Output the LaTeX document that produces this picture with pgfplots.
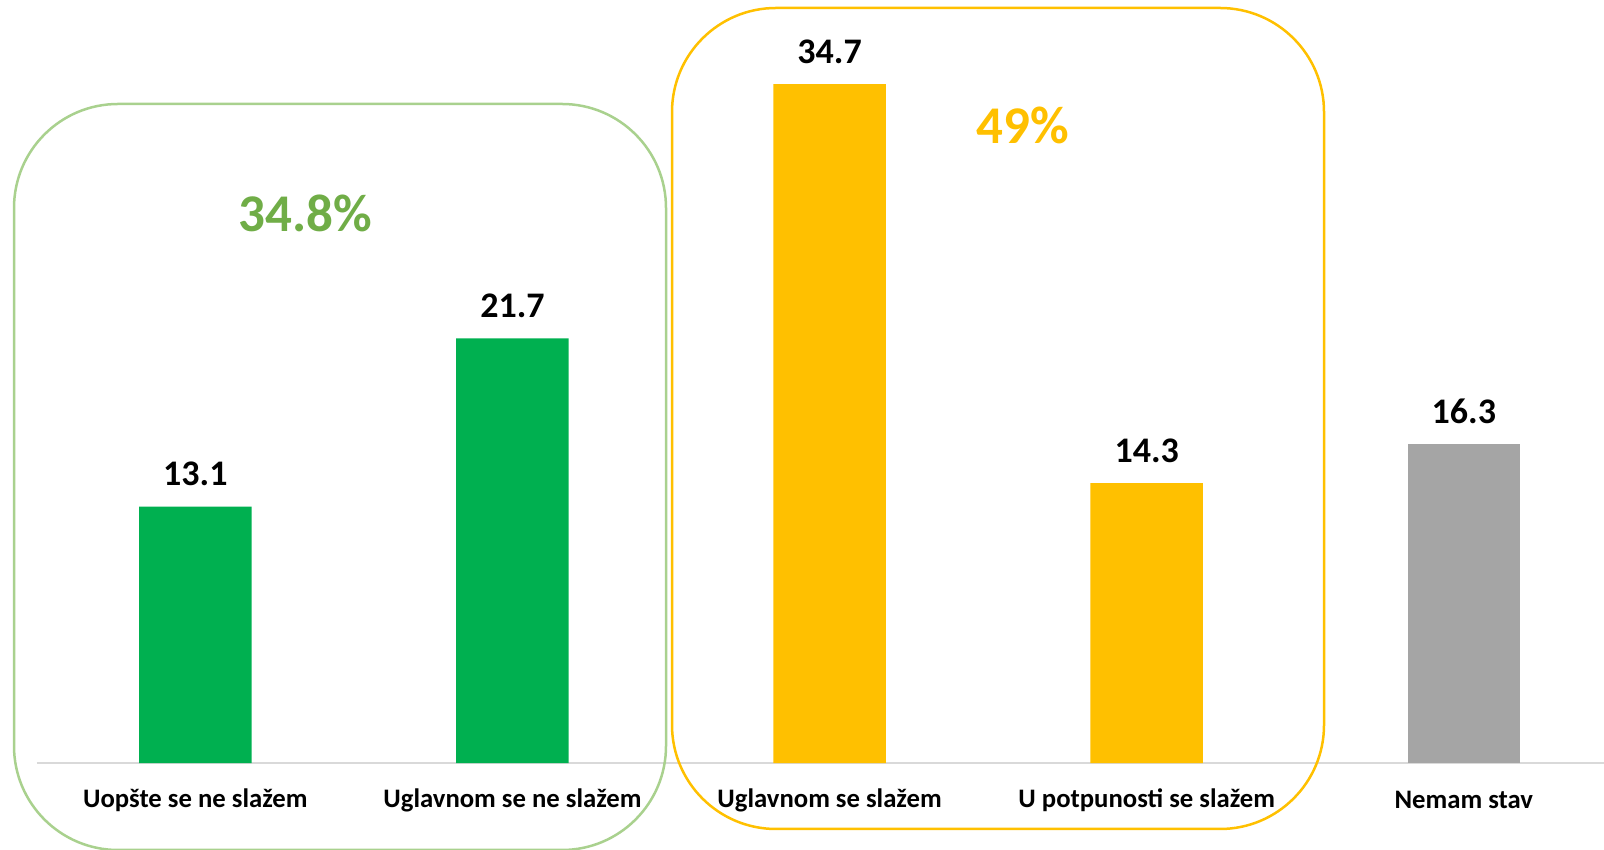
\documentclass[border=0pt]{standalone}
\usepackage{pgfplots}
\pgfplotsset{compat=1.18}
\usepackage{fontspec}
\setmainfont{Carlito}
\definecolor{bargreen}{HTML}{00B050}
\definecolor{baryellow}{HTML}{FFC000}
\definecolor{bargray}{HTML}{A5A5A5}
\definecolor{boxgreen}{HTML}{A9D18E}
\definecolor{textgreen}{HTML}{70AD47}
\definecolor{axisgray}{HTML}{D9D9D9}
\begin{document}
\begin{tikzpicture}
\useasboundingbox (0,0) rectangle (802pt,425pt);
\begin{axis}[
  at={(18.4pt,43.5pt)}, anchor=south west,
  scale only axis, width=783.6pt, height=381.5pt,
  xmin=-0.5, xmax=4.442, ymin=0, ymax=39,
  enlargelimits=false,
  ybar, bar width=56.25pt, bar shift=0pt,
  axis lines*=left,
  y axis line style={draw=none},
  x axis line style={-, draw=axisgray, line width=0.75pt},
  ytick=\empty,
  xtick={0,1,2,3,4},
  xticklabels={Uopšte se ne slažem, Uglavnom se ne slažem, Uglavnom se slažem, U potpunosti se slažem, Nemam stav},
  major tick length=0pt,
  xticklabel style={font=\fontsize{13.35}{15}\selectfont\bfseries, anchor=center, yshift=-18.5pt},
  /pgf/number format/assume math mode=true,
  nodes near coords={\pgfmathprintnumber[fixed,precision=1]{\pgfplotspointmeta}},
  every node near coord/.append style={font=\fontsize{18}{20}\selectfont\bfseries, black, anchor=base, yshift=10.5pt},
  clip=false,
]
\addplot[draw=none, fill=bargreen] coordinates {(0,13.1) (1,21.7)};
\addplot[draw=none, fill=baryellow] coordinates {(2,34.7) (3,14.3)};
\addplot[draw=none, fill=bargray] coordinates {(4,16.3)};
\end{axis}
\draw[boxgreen, line width=1.25pt, rounded corners=52pt] (7pt,0pt) rectangle (333pt,373pt);
\draw[baryellow, line width=1.25pt, rounded corners=52pt] (336pt,10.5pt) rectangle (662pt,421pt);
\node[textgreen, font=\fontsize{26.5}{30}\selectfont\bfseries] at (152.5pt,318.5pt) {34.8\%};
\node[baryellow, font=\fontsize{26.5}{30}\selectfont\bfseries] at (511.5pt,362.5pt) {49\%};
\end{tikzpicture}
\end{document}
